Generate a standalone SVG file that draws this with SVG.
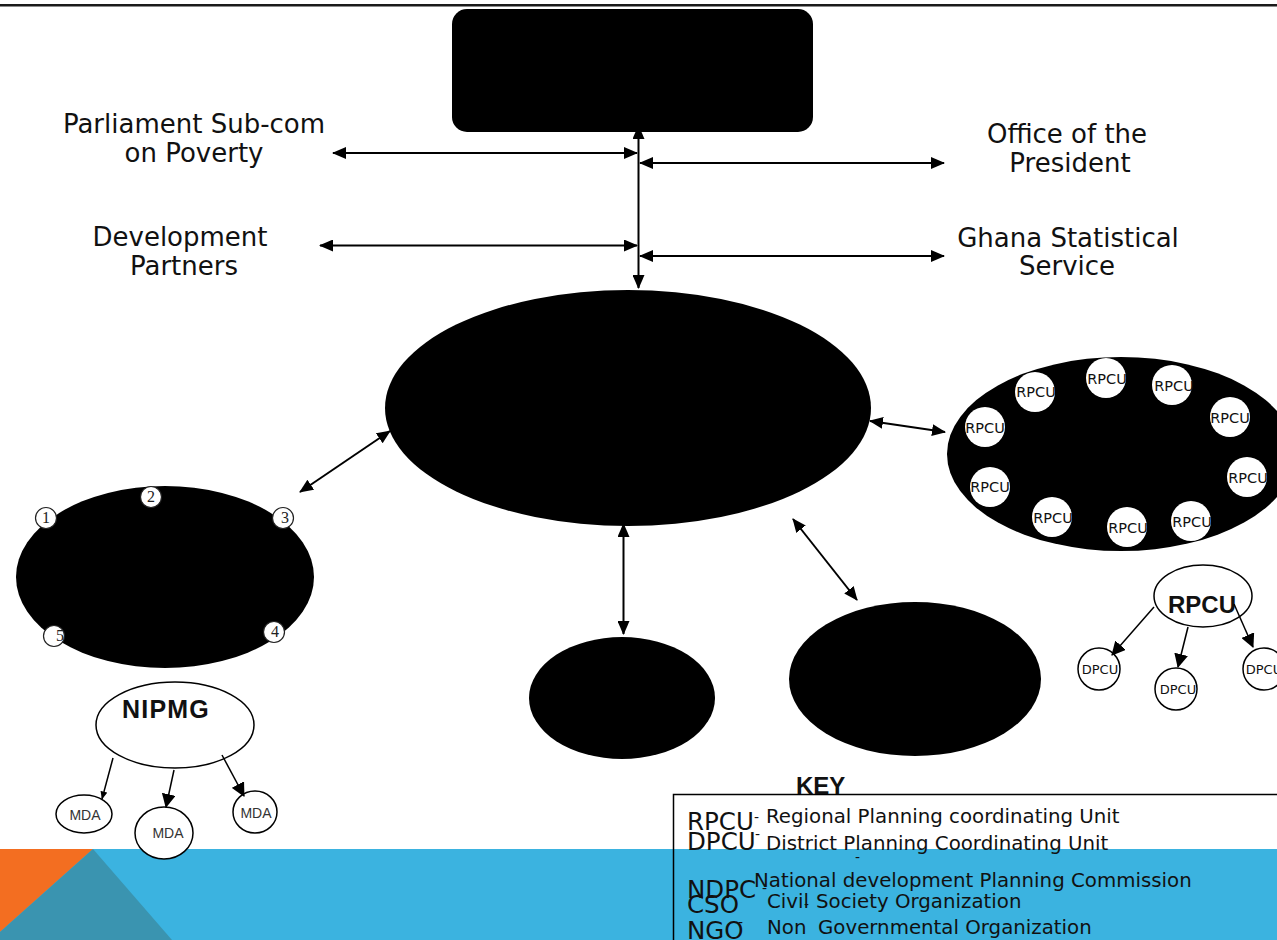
<svg xmlns="http://www.w3.org/2000/svg" width="1277" height="940" viewBox="0 0 1277 940">
<defs>
<style>
.lbl{font-family:"DejaVu Sans",Verdana,sans-serif;font-size:26px;fill:#111;text-anchor:middle}
.blk{fill:#000}
.conn line{stroke:#000;stroke-width:2;fill:none}
.wc{fill:#fff;stroke:#000;stroke-width:1.5}
.nc{fill:#fff;stroke:#222;stroke-width:1.2}
.rc{fill:#fff}
.num{font-family:"Liberation Serif","Times New Roman",serif;font-size:16px;fill:#222;text-anchor:middle}
.rp{font-family:"DejaVu Sans",Verdana,sans-serif;font-size:14.5px;fill:#111;text-anchor:middle}
.mda{font-family:"Liberation Sans",Arial,sans-serif;font-size:14px;fill:#333;text-anchor:middle}
.dp{font-family:"DejaVu Sans",Verdana,sans-serif;font-size:13px;fill:#111;text-anchor:middle}
.bold{font-family:"Liberation Sans",Arial,sans-serif;font-weight:bold;fill:#111}
.kabbr{font-family:"DejaVu Sans",Verdana,sans-serif;font-size:24.5px;fill:#111}
.kdesc{font-family:"DejaVu Sans",Verdana,sans-serif;font-size:19.8px;fill:#111}
.dash{font-family:"DejaVu Sans",Verdana,sans-serif;font-size:14px;fill:#111}
</style>
<marker id="ah" viewBox="0 0 14 12" markerWidth="14" markerHeight="12" refX="13" refY="6" orient="auto-start-reverse" markerUnits="userSpaceOnUse"><path d="M0,0 L14,6 L0,12 z" fill="#000"/></marker>
<marker id="ahs" viewBox="0 0 8 7" markerWidth="8" markerHeight="7" refX="7.5" refY="3.5" orient="auto" markerUnits="userSpaceOnUse"><path d="M0,0 L8,3.5 L0,7 z" fill="#000"/></marker>
<marker id="ahm" viewBox="0 0 14 14" markerWidth="14" markerHeight="14" refX="13" refY="7" orient="auto" markerUnits="userSpaceOnUse"><path d="M0,0 L14,7 L0,14 z" fill="#000"/></marker>
</defs>

<rect width="1277" height="940" fill="#fff"/>
<line x1="0" y1="5.3" x2="1277" y2="5.3" stroke="#1a1a1a" stroke-width="2.6"/>

<g id="banner">
<rect x="0" y="849" width="1277" height="91" fill="#3BB3E0"/>
<polygon points="0,849 93,849 0,932" fill="#F36E21"/>
<polygon points="93,849 0,932 0,940 172,940" fill="#3A94B0"/>
</g>

<g id="top-node"><rect x="452" y="9" width="361" height="123" rx="15" class="blk"/></g>

<g id="parliament"><text class="lbl" x="194" y="133">Parliament Sub-com</text><text class="lbl" x="194" y="162">on Poverty</text></g>
<g id="president"><text class="lbl" x="1067" y="143">Office of the</text><text class="lbl" x="1070" y="172">President</text></g>
<g id="partners"><text class="lbl" x="180" y="246">Development</text><text class="lbl" x="184" y="275">Partners</text></g>
<g id="gss"><text class="lbl" x="1068" y="247">Ghana Statistical</text><text class="lbl" x="1067" y="275">Service</text></g>

<g id="central"><ellipse cx="628" cy="408" rx="243" ry="118" class="blk"/></g>

<g id="left-group">
<ellipse cx="165" cy="577" rx="149" ry="91" class="blk"/>
<circle cx="46" cy="518" r="10.5" class="nc"/><text class="num" x="46" y="523">1</text>
<circle cx="151" cy="497" r="10.5" class="nc"/><text class="num" x="151" y="502">2</text>
<circle cx="283" cy="518" r="10.5" class="nc"/><text class="num" x="285" y="523">3</text>
<circle cx="274" cy="632" r="10.5" class="nc"/><text class="num" x="275" y="637">4</text>
<circle cx="54" cy="636" r="10.5" class="nc"/><text class="num" x="60" y="641">5</text>
</g>

<g id="nipmg">
<ellipse cx="175" cy="725" rx="79" ry="43" class="wc"/>
<text class="bold" x="122" y="718" font-size="25" letter-spacing="1.2">NIPMG</text>
</g>
<g id="mda1"><ellipse cx="84" cy="814" rx="28" ry="19" class="wc"/><text class="mda" x="85" y="820">MDA</text></g>
<g id="mda2"><ellipse cx="164" cy="833" rx="29" ry="26" class="wc"/><text class="mda" x="168" y="838">MDA</text></g>
<g id="mda3"><ellipse cx="255" cy="812" rx="22" ry="21" class="wc"/><text class="mda" x="256" y="818">MDA</text></g>

<g id="rpcu-group">
<ellipse cx="1121" cy="454" rx="174" ry="97" class="blk"/>
<circle cx="1035" cy="392" r="20" class="rc"/><text class="rp" x="1036" y="397">RPCU</text>
<circle cx="1106" cy="378" r="20" class="rc"/><text class="rp" x="1107" y="384">RPCU</text>
<circle cx="1172" cy="385" r="20" class="rc"/><text class="rp" x="1174" y="391">RPCU</text>
<circle cx="1230" cy="417" r="20" class="rc"/><text class="rp" x="1230" y="423">RPCU</text>
<circle cx="985" cy="427" r="20" class="rc"/><text class="rp" x="985" y="433">RPCU</text>
<circle cx="1247" cy="477" r="20" class="rc"/><text class="rp" x="1248" y="483">RPCU</text>
<circle cx="990" cy="487" r="20" class="rc"/><text class="rp" x="990" y="492">RPCU</text>
<circle cx="1052" cy="517" r="20" class="rc"/><text class="rp" x="1053" y="523">RPCU</text>
<circle cx="1127" cy="527" r="20" class="rc"/><text class="rp" x="1128" y="533">RPCU</text>
<circle cx="1191" cy="521" r="20" class="rc"/><text class="rp" x="1192" y="527">RPCU</text>
</g>

<g id="node-bottom-left"><ellipse cx="622" cy="698" rx="93" ry="61" class="blk"/></g>
<g id="node-bottom-right"><ellipse cx="915" cy="679" rx="126" ry="77" class="blk"/></g>

<g id="rpcu-node">
<ellipse cx="1203" cy="596" rx="49" ry="31" class="wc"/>
<text class="bold" x="1168" y="613" font-size="24">RPCU</text>
</g>
<g id="dpcu1"><ellipse cx="1099" cy="669" rx="21" ry="21" class="wc"/><text class="dp" x="1100" y="674">DPCU</text></g>
<g id="dpcu2"><ellipse cx="1176" cy="689" rx="21" ry="21" class="wc"/><text class="dp" x="1178" y="694">DPCU</text></g>
<g id="dpcu3"><ellipse cx="1264" cy="669" rx="21" ry="21" class="wc"/><text class="dp" x="1264" y="674">DPCU</text></g>

<g class="conn" id="connectors">
<line x1="638.5" y1="126" x2="638.5" y2="288" marker-start="url(#ah)" marker-end="url(#ah)"/>
<line x1="333" y1="153" x2="637" y2="153" marker-start="url(#ah)" marker-end="url(#ah)"/>
<line x1="640" y1="163" x2="944" y2="163" marker-start="url(#ah)" marker-end="url(#ah)"/>
<line x1="320" y1="245.5" x2="637" y2="245.5" marker-start="url(#ah)" marker-end="url(#ah)"/>
<line x1="640" y1="256" x2="944" y2="256" marker-start="url(#ah)" marker-end="url(#ah)"/>
<line x1="300" y1="492" x2="390" y2="431" marker-start="url(#ah)" marker-end="url(#ah)"/>
<line x1="870" y1="421" x2="945" y2="432" marker-start="url(#ah)" marker-end="url(#ah)"/>
<line x1="623.5" y1="524" x2="623.5" y2="634" marker-start="url(#ah)" marker-end="url(#ah)"/>
<line x1="793" y1="519" x2="857" y2="600" marker-start="url(#ah)" marker-end="url(#ah)"/>
<line x1="113" y1="758" x2="102" y2="799" marker-end="url(#ahs)" style="stroke-width:1.5"/>
<line x1="174" y1="770" x2="166" y2="807" marker-end="url(#ahm)" style="stroke-width:1.5"/>
<line x1="222" y1="755" x2="244" y2="796" marker-end="url(#ahm)" style="stroke-width:1.5"/>
<line x1="1154" y1="607" x2="1112" y2="655" marker-end="url(#ahm)" style="stroke-width:1.5"/>
<line x1="1188" y1="627" x2="1178" y2="667" marker-end="url(#ahm)" style="stroke-width:1.5"/>
<line x1="1234" y1="604" x2="1253" y2="647" marker-end="url(#ahm)" style="stroke-width:1.5"/>
</g>

<g id="key">
<rect x="673.5" y="794.5" width="640" height="200" fill="none" stroke="#000" stroke-width="1.5"/>
<text class="bold" x="796" y="794" font-size="24">KEY</text>
<text class="kabbr" x="687" y="830">RPCU</text>
<text class="dash" x="754" y="822">-</text>
<text class="kdesc" x="766" y="823">Regional Planning coordinating Unit</text>
<text class="kabbr" x="687" y="850">DPCU</text>
<text class="dash" x="755" y="839">-</text>
<text class="kdesc" x="766" y="850">District Planning Coordinating Unit</text>
<text class="dash" x="855" y="862">-</text>
<text class="kabbr" x="687" y="898">NDPC</text>
<text class="dash" x="762" y="893">-</text>
<text class="kdesc" x="754" y="887">National development Planning Commission</text>
<text class="kabbr" x="687" y="913">CSO</text>
<text class="kdesc" x="767" y="908">Civil</text>
<text class="dash" x="804" y="909">-</text>
<text class="kdesc" x="816" y="908">Society Organization</text>
<text class="kabbr" x="687" y="939">NGO</text>
<text class="dash" x="738" y="927">-</text>
<text class="kdesc" x="767" y="934">Non</text>
<text class="kdesc" x="818" y="934">Governmental Organization</text>
</g>
</svg>
